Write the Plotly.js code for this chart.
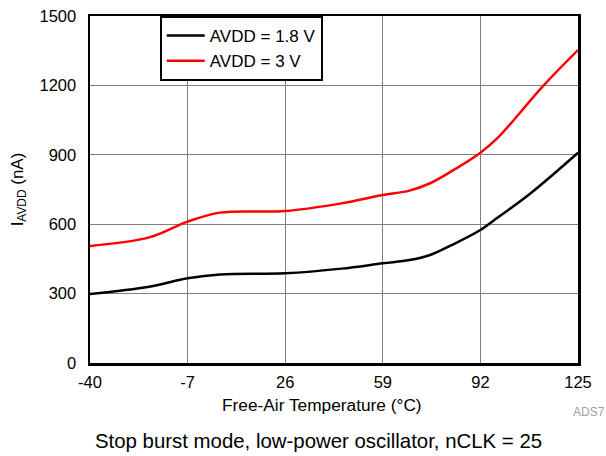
<!DOCTYPE html>
<html>
<head>
<meta charset="utf-8">
<script src="https://cdn.plot.ly/plotly-3.0.1.min.js"></script>
<style>html,body{margin:0;padding:0;background:#fff;}#chart{width:606px;height:456px;}</style>
</head>
<body>
<div id="chart"></div>
<script>
const temp18 = [-40, -20, -7, 4, 26, 45, 59, 68, 75, 82, 92, 98, 109, 125];
const iavdd18 = [298, 330, 366, 383, 388, 408, 431, 445, 467, 508, 575, 630, 734, 909];
const temp3 = [-40, -20, -7, 4, 26, 45, 59, 68, 75, 82, 92, 98, 113, 125];
const iavdd3 = [506, 543, 611, 650, 657, 690, 726, 745, 777, 827, 909, 975, 1195, 1353];
const xTicks = [-40, -7, 26, 59, 92, 125];
const yTicks = [0, 300, 600, 900, 1200, 1500];

const font = "Liberation Sans, Arial, sans-serif";
const traces = [
  {x: temp18, y: iavdd18, mode: 'lines', name: 'AVDD = 1.8 V',
   line: {color: '#000000', width: 2.5, shape: 'spline', smoothing: 1}},
  {x: temp3, y: iavdd3, mode: 'lines', name: 'AVDD = 3 V',
   line: {color: '#ff0000', width: 2.5, shape: 'spline', smoothing: 1}}
];
const layout = {
  width: 606, height: 456,
  margin: {l: 90, r: 28, t: 16, b: 93},
  paper_bgcolor: '#fff', plot_bgcolor: '#fff',
  font: {family: font, size: 16.5, color: '#000'},
  showlegend: true,
  legend: {x: 0.143, y: 1, xanchor: 'left', yanchor: 'top',
    bordercolor: '#000', borderwidth: 2, bgcolor: '#fff',
    font: {family: font, size: 17, color: '#000'},
    tracegroupgap: 0, itemwidth: 38},
  xaxis: {range: [-40, 125], tickmode: 'array', tickvals: xTicks,
    ticktext: xTicks.map(String), showgrid: true, gridcolor: '#808080', gridwidth: 1,
    zeroline: false, showline: true, mirror: true, linecolor: '#000', linewidth: 2.5,
    ticks: '', ticklabelstandoff: 3, tickfont: {size: 16.5}},
  yaxis: {range: [0, 1500], tickmode: 'array', tickvals: yTicks,
    ticktext: yTicks.map(String), showgrid: true, gridcolor: '#808080', gridwidth: 1,
    zeroline: false, showline: true, mirror: true, linecolor: '#000', linewidth: 2.5,
    ticks: '', ticklabelstandoff: 8, tickfont: {size: 16.5},
    title: {text: 'I<sub>AVDD</sub> (nA)', font: {size: 17}, standoff: 12}},
  annotations: [
    {text: 'Free-Air Temperature (°C)', xref: 'paper', yref: 'paper',
     x: 0.476, y: -0.121, xanchor: 'center', yanchor: 'middle', showarrow: false,
     font: {family: font, size: 17.3, color: '#000'}},
    {text: 'Stop burst mode, low-power oscillator, nCLK = 25', xref: 'paper', yref: 'paper',
     x: 0.468, y: -0.225, xanchor: 'center', yanchor: 'middle', showarrow: false,
     font: {family: font, size: 20.4, color: '#000'}},
    {text: 'ADS7', xref: 'paper', yref: 'paper', x: 0.986, y: -0.142,
     xanchor: 'left', yanchor: 'middle', showarrow: false,
     font: {family: font, size: 12, color: '#a0a0a0'}}
  ]
};
Plotly.newPlot('chart', traces, layout, {displayModeBar: false, staticPlot: true});
</script>
</body>
</html>
